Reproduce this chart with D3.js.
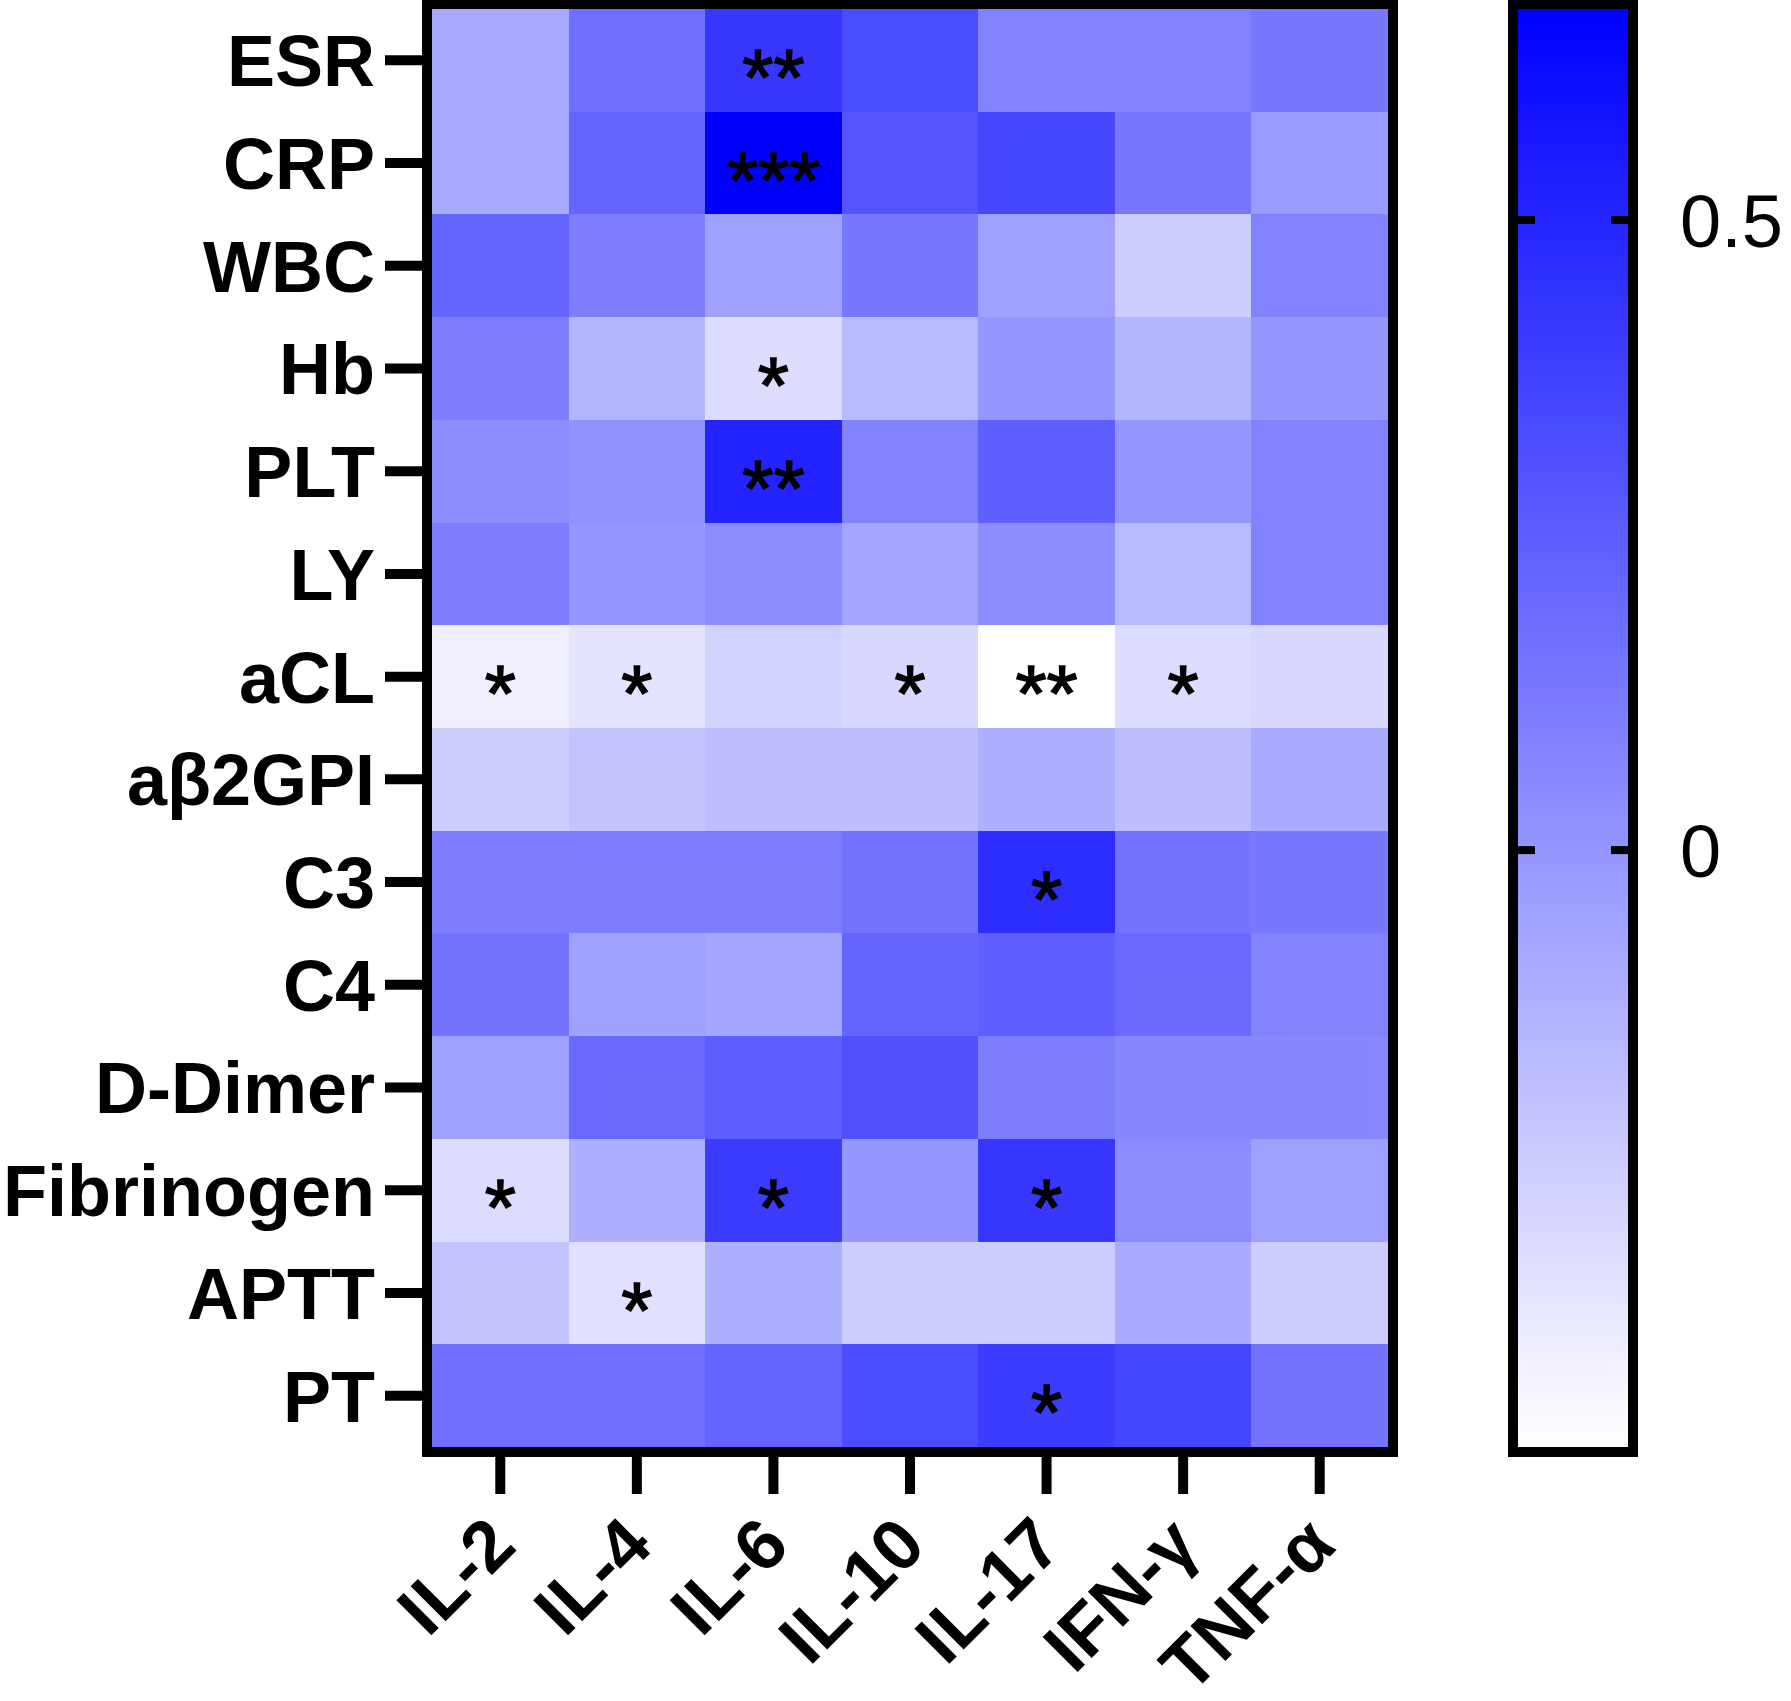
<!DOCTYPE html>
<html>
<head>
<meta charset="utf-8">
<script src="https://cdn.jsdelivr.net/npm/d3@7"></script>
<style>
  body { margin: 0; background: #fff; }
  svg { display: block; }
  .tick-label { font-family: "Liberation Sans", Arial, sans-serif; font-weight: bold; font-size: 72px; fill: #000; }
  .bar-label { font-family: "Liberation Sans", Arial, sans-serif; font-size: 74px; fill: #000; }
  .star { font-family: "Liberation Sans", Arial, sans-serif; font-size: 80px; fill: #000; stroke: #000; stroke-width: 1.5px; }
</style>
</head>
<body>
<div class="chart"></div>
<script>
// row and column categories
var rows = ["ESR", "CRP", "WBC", "Hb", "PLT", "LY", "aCL", "aβ2GPI", "C3", "C4",
  "D-Dimer", "Fibrinogen", "APTT", "PT"];
var cols = ["IL-2", "IL-4", "IL-6", "IL-10", "IL-17", "IFN-γ", "TNF-α"];

// correlation values, one array per row (IL-2 ... TNF-α)
var ESR = [-0.085, 0.166, 0.421, 0.331, 0.085, 0.085, 0.130];
var CRP = [-0.094, 0.220, 0.667, 0.287, 0.354, 0.130, -0.027];
var WBC = [0.220, 0.108, -0.049, 0.130, -0.049, -0.250, 0.085];
var Hb = [0.108, -0.139, -0.318, -0.161, -0.004, -0.139, -0.004];
var PLT = [0.041, 0.018, 0.510, 0.085, 0.242, -0.004, 0.085];
var LY = [0.108, -0.004, 0.041, -0.071, 0.041, -0.161, 0.085];
var aCL = [-0.398, -0.353, -0.273, -0.295, -0.474, -0.318, -0.295];
var aB2GPI = [-0.250, -0.206, -0.183, -0.183, -0.116, -0.183, -0.094];
var C3 = [0.108, 0.108, 0.108, 0.152, 0.466, 0.152, 0.130];
var C4 = [0.152, -0.049, -0.071, 0.220, 0.242, 0.197, 0.085];
var DDimer = [-0.049, 0.197, 0.242, 0.309, 0.108, 0.063, 0.063];
var Fibrinogen = [-0.318, -0.116, 0.398, -0.004, 0.421, 0.041, -0.049];
var APTT = [-0.206, -0.340, -0.116, -0.250, -0.250, -0.094, -0.250];
var PT = [0.175, 0.175, 0.220, 0.331, 0.398, 0.354, 0.152];

var values = [ESR, CRP, WBC, Hb, PLT, LY, aCL, aB2GPI, C3, C4, DDimer, Fibrinogen, APTT, PT];

// significance marks per cell
var stars = [
  ["", "", "**", "", "", "", ""],
  ["", "", "***", "", "", "", ""],
  ["", "", "", "", "", "", ""],
  ["", "", "*", "", "", "", ""],
  ["", "", "**", "", "", "", ""],
  ["", "", "", "", "", "", ""],
  ["*", "*", "", "*", "**", "*", ""],
  ["", "", "", "", "", "", ""],
  ["", "", "", "", "*", "", ""],
  ["", "", "", "", "", "", ""],
  ["", "", "", "", "", "", ""],
  ["*", "", "*", "", "*", "", ""],
  ["", "*", "", "", "", "", ""],
  ["", "", "", "", "*", "", ""]
];

// colour bar limits and ticks
var colorMin = -0.474;
var colorMax = 0.667;
var colorTicks = [0, 0.5];

var svgWidth = 1791;
var svgHeight = 1701;

var plot = { left: 432, right: 1388, top: 9, bottom: 1447 };
var bar = { left: 1518, right: 1628 };

var svg = d3.select(".chart")
  .append("svg")
  .attr("width", svgWidth)
  .attr("height", svgHeight);

// build cell table from the arrays
var cells = [];
values.forEach(function(row, i) {
  row.forEach(function(v, j) {
    cells.push({ row: rows[i], col: cols[j], value: v, star: stars[i][j] });
  });
});

var x = d3.scaleBand().domain(cols).range([plot.left, plot.right]);
var y = d3.scaleBand().domain(rows).range([plot.top, plot.bottom]);

var color = d3.scaleLinear()
  .domain([colorMin, colorMax])
  .range(["#ffffff", "#0000ff"])
  .clamp(true);

// heat cells
svg.append("g")
  .selectAll("rect")
  .data(cells)
  .enter()
  .append("rect")
  .attr("x", d => x(d.col))
  .attr("y", d => y(d.row))
  .attr("width", x.bandwidth() + 0.5)
  .attr("height", y.bandwidth() + 0.5)
  .attr("fill", d => color(d.value))
  .attr("shape-rendering", "crispEdges");

// asterisks
svg.append("g")
  .selectAll("text")
  .data(cells.filter(d => d.star))
  .enter()
  .append("text")
  .attr("class", "star")
  .attr("x", d => x(d.col) + x.bandwidth() / 2)
  .attr("y", d => y(d.row) + y.bandwidth() / 2)
  .attr("dy", "0.56em")
  .attr("text-anchor", "middle")
  .text(d => d.star);

// frame round the heatmap
svg.append("rect")
  .attr("x", plot.left - 5)
  .attr("y", plot.top - 5)
  .attr("width", plot.right - plot.left + 10)
  .attr("height", plot.bottom - plot.top + 10)
  .attr("fill", "none")
  .attr("stroke", "#000")
  .attr("stroke-width", 10);

// left axis
var leftAxis = svg.append("g")
  .attr("transform", `translate(${plot.left - 5}, 0)`)
  .call(d3.axisLeft(y).tickSize(42).tickPadding(10));
leftAxis.select(".domain").remove();
leftAxis.selectAll(".tick line").attr("stroke", "#000").attr("stroke-width", 10);
leftAxis.selectAll(".tick text")
  .attr("class", "tick-label")
  .attr("dy", "0.36em");

// bottom axis
var bottomAxis = svg.append("g")
  .attr("transform", `translate(0, ${plot.bottom + 5})`)
  .call(d3.axisBottom(x).tickSize(42));
bottomAxis.select(".domain").remove();
bottomAxis.selectAll(".tick line").attr("stroke", "#000").attr("stroke-width", 10);
bottomAxis.selectAll(".tick text")
  .attr("class", "tick-label")
  .attr("x", 0)
  .attr("y", 0)
  .attr("dy", "0.36em")
  .attr("transform", "translate(0, 78) rotate(-45)")
  .style("text-anchor", "end");

// colour bar gradient
var defs = svg.append("defs");
var grad = defs.append("linearGradient")
  .attr("id", "barGrad")
  .attr("x1", "0").attr("y1", "1")
  .attr("x2", "0").attr("y2", "0");
grad.append("stop").attr("offset", "0%").attr("stop-color", color(colorMin));
grad.append("stop").attr("offset", "100%").attr("stop-color", color(colorMax));

var barScale = d3.scaleLinear()
  .domain([colorMin, colorMax])
  .range([plot.bottom, plot.top]);

svg.append("rect")
  .attr("x", bar.left)
  .attr("y", barScale(colorMax))
  .attr("width", bar.right - bar.left)
  .attr("height", barScale(colorMin) - barScale(colorMax))
  .attr("fill", "url(#barGrad)");

svg.append("rect")
  .attr("x", bar.left - 5)
  .attr("y", barScale(colorMax) - 5)
  .attr("width", bar.right - bar.left + 10)
  .attr("height", barScale(colorMin) - barScale(colorMax) + 10)
  .attr("fill", "none")
  .attr("stroke", "#000")
  .attr("stroke-width", 10);

// inward ticks on both sides, labels on the right
var barRight = svg.append("g")
  .attr("transform", `translate(${bar.left}, 0)`)
  .call(d3.axisRight(barScale).tickValues(colorTicks).tickSize(17).tickPadding(145)
    .tickFormat(d => String(d)));
barRight.select(".domain").remove();
barRight.selectAll(".tick line").attr("stroke", "#000").attr("stroke-width", 8);
barRight.selectAll(".tick text")
  .attr("class", "bar-label")
  .attr("dy", "0.36em");

var barLeft = svg.append("g")
  .attr("transform", `translate(${bar.right}, 0)`)
  .call(d3.axisLeft(barScale).tickValues(colorTicks).tickSize(17).tickFormat(""));
barLeft.select(".domain").remove();
barLeft.selectAll(".tick line").attr("stroke", "#000").attr("stroke-width", 8);
</script>
</body>
</html>
